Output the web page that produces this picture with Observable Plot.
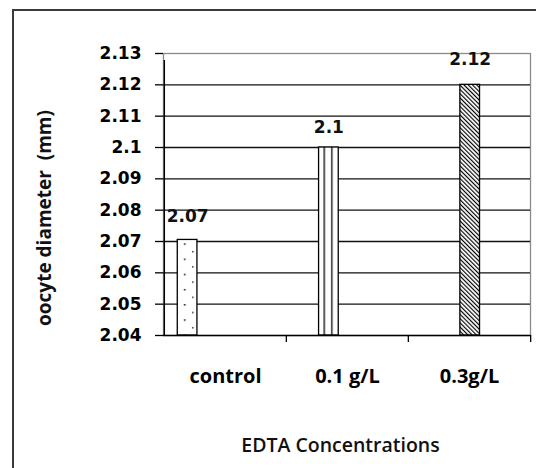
<!DOCTYPE html>
<html><head><meta charset="utf-8">
<script src="https://cdn.jsdelivr.net/npm/d3@7"></script>
<script src="https://cdn.jsdelivr.net/npm/@observablehq/plot@0.6"></script>
<style>
html,body{margin:0;padding:0;background:#fff;}
#wrap{position:relative;width:536px;height:468px;overflow:hidden;}
#border{position:absolute;left:12px;top:9px;width:600px;height:600px;border:2px solid #3a3a3a;box-sizing:border-box;}
#chart{position:absolute;left:0;top:0;}
#ytitle{position:absolute;left:44px;top:218px;transform:translate(-50%,-50%) rotate(-90deg);white-space:pre;
  font-family:"Open Sans",sans-serif;font-weight:bold;font-size:19px;line-height:1;color:#111;}
</style></head><body>
<div id="wrap"><div id="border"></div><div id="chart"></div><div id="ytitle"></div></div>
<script>
// ---- data ----
const categories = ["control", "0.1 g/L", "0.3g/L"];
const values = [2.0705, 2.10, 2.12];
const yTicks = [2.04, 2.05, 2.06, 2.07, 2.08, 2.09, 2.10, 2.11, 2.12, 2.13];
const xTitle = "EDTA Concentrations";
const yTitle = "oocyte diameter  (mm)";

const data = categories.map((c, i) => ({category: c, value: values[i]}));

// ---- layout / style ----
const W = 536, H = 468, mL = 163, mR = 6, mT = 53, mB = 133;
const bw = (W - mL - mR) / categories.length;
const barW = 20;
const inset = (bw - barW) / 2;
const step = 19.3, shift = 0.7;
const barDx = categories.map((c, i) => (i - 2) * step + shift);
const labelDy = [-23.5, -20, -25];
const fmt = d => String(+d.toFixed(2));
const fills = ["url(#p-dots)", "url(#p-vlines)", "url(#p-hatch)"];
const numFont = "DejaVu Sans";

function defs() {
  const d = d3.create("svg:defs");
  // dots
  const p1 = d.append("pattern").attr("id", "p-dots").attr("patternUnits", "userSpaceOnUse")
    .attr("x", mL + inset).attr("y", 0.1).attr("width", 16).attr("height", 15.2);
  p1.append("rect").attr("width", 16).attr("height", 15.2).attr("fill", "#fff");
  p1.append("circle").attr("cx", 8.5).attr("cy", 0.8).attr("r", 0.85).attr("fill", "#000");
  p1.append("circle").attr("cx", 0.5).attr("cy", 8.4).attr("r", 0.85).attr("fill", "#000");
  // vertical lines
  const p2 = d.append("pattern").attr("id", "p-vlines").attr("patternUnits", "objectBoundingBox")
    .attr("patternContentUnits", "objectBoundingBox").attr("width", 1).attr("height", 1);
  p2.append("rect").attr("width", 1).attr("height", 1).attr("fill", "#fff");
  p2.append("rect").attr("x", 0.255).attr("width", 0.065).attr("height", 1).attr("fill", "#000");
  p2.append("rect").attr("x", 0.645).attr("width", 0.065).attr("height", 1).attr("fill", "#000");
  // diagonal hatch
  const p3 = d.append("pattern").attr("id", "p-hatch").attr("patternUnits", "userSpaceOnUse")
    .attr("width", 3).attr("height", 3).attr("patternTransform", "rotate(-45)");
  p3.append("rect").attr("width", 3).attr("height", 3).attr("fill", "#fff");
  p3.append("rect").attr("width", 1.15).attr("height", 3).attr("fill", "#000");
  return d.node();
}

const barMarks = categories.flatMap((c, i) => {
  const rows = data.filter(d => d.category === c);
  return [
    Plot.barY(rows, {x: "category", y1: yTicks[0], y2: "value", fill: "category",
      stroke: "#000", strokeWidth: 1.3, insetLeft: inset, insetRight: inset, dx: barDx[i]}),
    Plot.text(rows, {x: "category", y: "value", text: d => fmt(d.value), dx: barDx[i], dy: labelDy[i],
      fontFamily: numFont, fontWeight: "bold", fontSize: 17, fill: "#111"})
  ];
});

const chart = Plot.plot({
  width: W, height: H,
  marginLeft: mL, marginRight: mR, marginTop: mT, marginBottom: mB,
  style: {background: "transparent", fontFamily: "Open Sans", color: "#000", overflow: "visible"},
  x: {domain: categories, padding: 0, label: null, axis: null},
  y: {domain: [yTicks[0], yTicks[yTicks.length - 1]], label: null, axis: null},
  color: {domain: categories, range: fills},
  marks: [
    defs,
    Plot.frame({stroke: "#8a8a8a", strokeWidth: 1.3}),
    Plot.gridY(yTicks.slice(1, -1), {stroke: "#111", strokeOpacity: 1, strokeWidth: 1.3}),
    ...barMarks,
    // bottom axis line
    Plot.ruleY([yTicks[0]], {stroke: "#000", strokeWidth: 1.4}),
    // left axis line + category boundary ticks
    Plot.ruleX([categories[0]], {x: d => d, dx: -bw / 2, y1: yTicks[0], y2: yTicks[yTicks.length - 1], insetBottom: -7, stroke: "#000", strokeWidth: 1.4}),
    Plot.ruleX(categories.slice(1), {x: d => d, dx: -bw / 2, y1: yTicks[0], y2: yTicks[0], insetBottom: -7, stroke: "#000", strokeWidth: 1.3}),
    Plot.ruleX([categories[categories.length - 1]], {x: d => d, dx: bw / 2, y1: yTicks[0], y2: yTicks[0], insetBottom: -7, stroke: "#000", strokeWidth: 1.3}),
    Plot.axisY({ticks: yTicks, tickFormat: fmt, tickSize: 8, tickPadding: 14, strokeWidth: 1.3,
      fontFamily: numFont, fontWeight: "bold", fontSize: 17, label: null}),
    Plot.axisX({tickSize: 0, tickPadding: 33, fontFamily: "Open Sans", fontWeight: "bold", fontSize: 20, label: null}),
    Plot.text([xTitle], {frameAnchor: "bottom", dy: 110, dx: -6.5, lineAnchor: "middle",
      fontFamily: "Open Sans", fontWeight: 600, fontSize: 19.5, fill: "#111"})
  ]
});
document.getElementById("chart").appendChild(chart);
document.getElementById("ytitle").textContent = yTitle;
</script>
</body></html>
